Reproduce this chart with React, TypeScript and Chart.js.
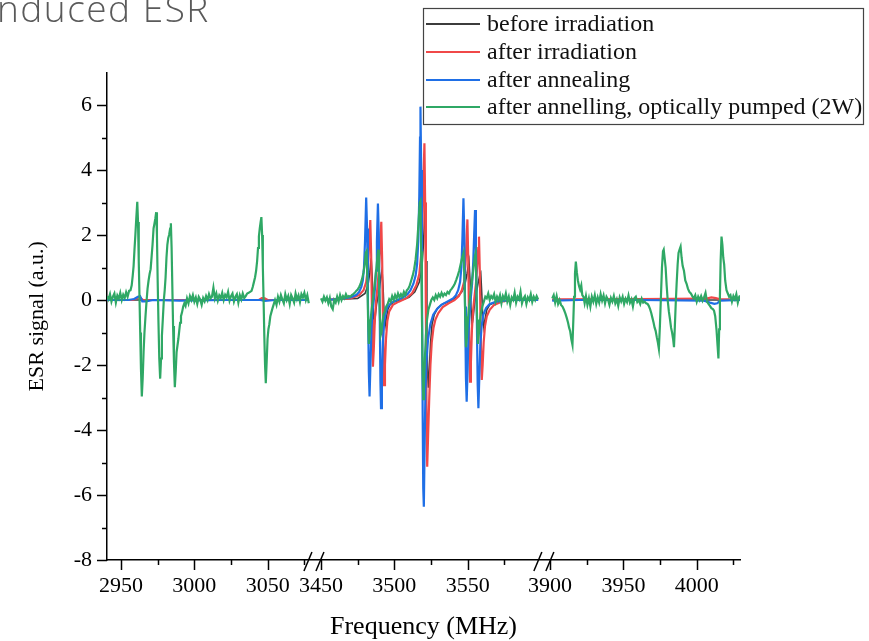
import { useEffect, useRef } from 'react';
import { Chart, registerables } from 'chart.js';

Chart.register(...registerables);

// ---------- labels / colours ----------
const seriesLabels = [
  'before irradiation',
  'after irradiation',
  'after annealing',
  'after annelling, optically pumped (2W)',
];
const seriesColors = ['#3c3c3c', '#f04848', '#1f6fe6', '#2fa865'];
const titleText = 'nduced ESR';
const xTitle = 'Frequency (MHz)';
const yTitle = 'ESR signal (a.u.)';

// ---------- broken frequency axis ----------
const segStart = [2940.46, 3446.0, 3896.5];
const segEnd = [3078.0, 3598.5, 4030.0];
const segOffset = [2940.46, 3304.12, 3598.0];
const xTickFreqs = [2950, 3000, 3050, 3450, 3500, 3550, 3900, 3950, 4000];
const xTickLabels = ['2950', '3000', '3050', '3450', '3500', '3550', '3900', '3950', '4000'];
const xMinorFreqs = [2975, 3025, 3075, 3475, 3525, 3575, 3925, 3975, 4025];
const yTickValues = [-8, -6, -4, -2, 0, 2, 4, 6];
const yTickLabels = ['-8', '-6', '-4', '-2', '0', '2', '4', '6'];
const yMinorValues = [-7, -5, -3, -1, 1, 3, 5];

function segOf(f: number) {
  if (f < 3300) return 0;
  if (f < 3750) return 1;
  return 2;
}
function toAxis(f: number) {
  return f - segOffset[segOf(f)];
}

// ---------- data: [frequency (MHz), ESR signal] ----------
const blackSeg1 = [[2940.5, 0.0], [2990, 0.0], [3040, 0.0], [3078, 0.0]];
const blackSeg2 = [
  [3450, 0.0], [3475, 0.05], [3480, 0.2], [3482, 0.45], [3483.3, 0.85], [3484.2, 1.28], [3484.9, 0.7], [3485.6, -0.3],
  [3486.3, -0.77], [3487.0, -0.5], [3487.8, -0.15], [3488.8, 0.1], [3490.0, 0.4], [3490.9, 0.75], [3491.6, 0.92],
  [3492.3, 0.4], [3493.0, -0.4], [3493.8, -0.77], [3494.6, -0.55], [3495.5, -0.3], [3497, -0.15], [3500, -0.05],
  [3505, 0.0], [3510, 0.08], [3514, 0.25], [3517, 0.55], [3518.8, 1.0], [3519.8, 1.7], [3520.6, 2.5], [3521.2, 3.0],
  [3521.7, 1.2], [3522.2, -1.0], [3522.7, -2.3], [3523.2, -2.7], [3523.9, -2.1], [3524.7, -1.3], [3525.7, -0.75],
  [3527.2, -0.45], [3529.5, -0.25], [3533, -0.12], [3538, -0.03], [3543, 0.1], [3546, 0.25], [3548, 0.45],
  [3549.5, 0.8], [3550.9, 1.18], [3551.6, 0.6], [3552.3, -0.3], [3553.0, -0.75], [3553.8, -0.5], [3554.7, -0.1],
  [3555.8, 0.2], [3557.0, 0.5], [3558.2, 0.75], [3558.9, 0.82], [3559.6, 0.2], [3560.3, -0.6], [3561.0, -0.85],
  [3561.8, -0.6], [3563, -0.3], [3565, -0.15], [3570, -0.05], [3580, 0.0], [3598, 0.0],
];
const blackSeg3 = [[3901.5, 0.0], [3960, 0.0], [4029.5, 0.0]];

const redSeg1 = [
  [2940.5, 0.0], [2958, 0.0], [2961, 0.06], [2963, 0.08], [2965, 0.0], [2990, 0.0], [3044, 0.0], [3046, 0.06],
  [3048, 0.05], [3050, 0.0], [3078, 0.0],
];
const redSeg2 = [
  [3450, 0.0], [3470, 0.05], [3476, 0.15], [3479, 0.3], [3480.8, 0.55], [3482.0, 1.0], [3482.8, 1.7], [3483.6, 2.46],
  [3484.2, 1.4], [3484.8, -0.6], [3485.4, -2.05], [3486.0, -1.5], [3486.7, -0.6], [3487.5, -0.05], [3488.4, 0.35],
  [3489.4, 0.9], [3490.3, 1.6], [3491.1, 2.41], [3491.7, 1.2], [3492.4, -1.2], [3493.0, -2.62], [3493.6, -2.0],
  [3494.3, -1.2], [3495.2, -0.65], [3496.5, -0.35], [3499, -0.15], [3503, -0.05], [3508, 0.05], [3512, 0.2],
  [3515, 0.45], [3517, 0.8], [3518.3, 1.4], [3519.2, 2.4], [3519.9, 3.8], [3520.5, 4.82], [3521.0, 3.0],
  [3521.5, -0.5], [3522.0, -3.8], [3522.4, -5.13], [3523.0, -4.2], [3523.8, -3.0], [3524.6, -2.0], [3525.5, -1.3],
  [3526.7, -0.85], [3528.0, -0.6], [3530.0, -0.4], [3533, -0.22], [3537, -0.1], [3541, 0.0], [3544, 0.12],
  [3546, 0.3], [3547.5, 0.55], [3548.5, 1.1], [3549.2, 1.8], [3549.8, 2.48], [3550.4, 1.2], [3551.0, -1.0],
  [3551.6, -2.51], [3552.2, -1.9], [3552.9, -0.9], [3553.7, -0.3], [3554.6, 0.1], [3555.6, 0.5], [3556.6, 1.1],
  [3557.2, 1.6], [3557.7, 1.95], [3558.3, 0.8], [3558.9, -1.2], [3559.6, -2.46], [3560.2, -2.0], [3560.9, -1.3],
  [3561.8, -0.8], [3563, -0.5], [3565, -0.3], [3568, -0.15], [3573, -0.05], [3580, 0.0], [3598, 0.0],
];
const redSeg3 = [
  [3901.5, 0.02], [3960, 0.03], [4006, 0.04], [4010, 0.08], [4013, 0.06], [4016, 0.02], [4029.5, 0.02],
];

const blueSeg1 = [
  [2940.5, 0.0], [2955, 0.0], [2959, 0.03], [2961.5, 0.1], [2963, 0.12], [2964.5, -0.04], [2967, -0.04],
  [2972, 0.0], [2990, -0.02], [3020, 0.0], [3045, 0.0], [3048, -0.03], [3055, 0.0], [3078, 0.0],
];
const blueSeg2 = [
  [3450, 0.0], [3460, 0.02], [3470, 0.08], [3474, 0.15], [3476, 0.25], [3477.5, 0.4], [3478.5, 0.6], [3479.3, 1.0],
  [3480.0, 1.8], [3480.8, 3.15], [3481.4, 2.2], [3482.0, 0.0], [3482.6, -2.2], [3483.1, -2.97], [3483.7, -2.0],
  [3484.4, -0.9], [3485.2, -0.3], [3486.0, 0.0], [3486.8, 0.35], [3487.5, 0.9], [3488.1, 1.8], [3488.8, 2.97],
  [3489.4, 2.0], [3490.0, -0.3], [3490.5, -2.5], [3490.9, -3.33], [3491.5, -2.4], [3492.2, -1.3], [3493.0, -0.7],
  [3494.0, -0.4], [3495.5, -0.2], [3498, -0.08], [3502, 0.0], [3506, 0.08], [3509, 0.18], [3511, 0.3], [3513, 0.5],
  [3514.5, 0.75], [3515.5, 1.1], [3516.3, 1.8], [3517.0, 3.2], [3517.5, 5.0], [3517.8, 5.95], [3518.3, 4.0],
  [3518.8, 0.5], [3519.3, -3.5], [3519.7, -5.8], [3520.1, -6.36], [3520.6, -4.6], [3521.2, -2.8], [3522.0, -1.8],
  [3523.0, -1.2], [3524.5, -0.75], [3526.5, -0.45], [3529, -0.28], [3532, -0.15], [3536, -0.05], [3540, 0.05],
  [3542, 0.15], [3543.5, 0.3], [3544.8, 0.55], [3545.7, 1.0], [3546.4, 1.9], [3547.1, 3.13], [3547.7, 2.0],
  [3548.2, -0.2], [3548.8, -2.4], [3549.3, -3.13], [3549.9, -2.2], [3550.6, -1.0], [3551.4, -0.3], [3552.2, 0.1],
  [3553.0, 0.5], [3553.8, 1.2], [3554.4, 2.0], [3555.0, 2.77], [3555.6, 1.6], [3556.2, -0.5], [3556.8, -2.6],
  [3557.3, -3.33], [3557.9, -2.4], [3558.6, -1.4], [3559.5, -0.8], [3560.7, -0.45], [3562.5, -0.25], [3565, -0.12],
  [3570, -0.04], [3580, 0.0], [3598, 0.0],
];
const blueSeg3 = [
  [3901.5, -0.02], [3920, 0.0], [3960, 0.0], [4005, -0.02], [4009, -0.08], [4012, -0.12], [4014, -0.1],
  [4016, -0.02], [4029.5, 0.0],
];

const greenSeg1 = [
  [2940.5, 0.12], [2941.5, 0.02], [2942.5, 0.18], [2943.5, -0.05], [2944.5, 0.1], [2945.5, 0.2], [2946.5, -0.08],
  [2947.5, 0.14], [2948.5, 0.04], [2949.5, 0.22], [2950.5, 0.0], [2951.5, 0.16], [2952.5, 0.06], [2953.5, 0.24],
  [2954.5, 0.1], [2955.5, 0.28], [2956.5, 0.3], [2957.3, 0.45], [2958.0, 0.75], [2958.6, 1.05], [2959.2, 1.55],
  [2959.8, 2.0], [2960.4, 2.5], [2961.1, 3.02], [2961.6, 2.4], [2962.1, 1.2], [2962.6, 0.1], [2963.1, -1.0],
  [2963.6, -2.1], [2964.2, -2.97], [2964.8, -2.4], [2965.4, -1.6], [2966.0, -1.0], [2966.7, -0.5], [2967.4, -0.05],
  [2968.1, 0.35], [2968.8, 0.6], [2969.5, 0.8], [2970.2, 0.95], [2970.9, 1.35], [2971.5, 1.7], [2972.2, 2.2],
  [2972.8, 2.35], [2973.4, 2.5], [2974.0, 2.7], [2974.5, 2.0], [2975.0, 0.6], [2975.5, -0.6], [2976.1, -1.8],
  [2976.7, -2.42], [2977.3, -1.8], [2977.9, -1.1], [2978.5, -0.6], [2979.2, 0.0], [2979.8, 0.3], [2980.4, 0.7],
  [2981.0, 1.3], [2981.6, 1.7], [2982.2, 1.9], [2982.8, 2.0], [2983.5, 2.2], [2984.0, 2.36], [2984.5, 1.6],
  [2985.0, 0.4], [2985.5, -0.8], [2986.1, -1.9], [2986.7, -2.68], [2987.3, -2.2], [2987.9, -1.6], [2988.5, -1.4],
  [2989.1, -1.2], [2989.7, -0.95], [2990.3, -0.7], [2990.9, -0.5], [2991.6, -0.38], [2992.4, -0.2], [2993.2, -0.1],
  [2994.0, -0.18], [2995.0, 0.05], [2996.0, -0.1], [2997, 0.12], [2998, 0.0], [2999, 0.15], [3000, -0.05],
  [3001, 0.08], [3002, -0.12], [3003, 0.1], [3004, 0.02], [3005, -0.15], [3006, 0.06], [3007, -0.04], [3008, 0.12],
  [3009, 0.0], [3010, 0.18], [3011, 0.05], [3012, 0.1], [3013, 0.38], [3014, 0.05], [3015, 0.2], [3016, -0.02],
  [3017, 0.14], [3018, 0.06], [3019, 0.22], [3020, 0.0], [3021, 0.16], [3022, 0.08], [3023, 0.25], [3024, -0.02],
  [3025, 0.12], [3026, 0.2], [3027, -0.05], [3028, 0.1], [3029, 0.18], [3030, -0.08], [3031, 0.15], [3032, 0.02],
  [3033, 0.2], [3034, 0.06], [3035, 0.12], [3036, 0.2], [3037, 0.22], [3038, 0.25], [3039, 0.28], [3039.8, 0.4],
  [3040.6, 0.55], [3041.4, 0.7], [3042.1, 0.9], [3042.8, 1.2], [3043.4, 1.6], [3044.0, 1.95], [3044.6, 2.2],
  [3045.2, 2.4], [3045.7, 2.55], [3046.2, 2.0], [3046.7, 1.0], [3047.2, 0.0], [3047.7, -1.1], [3048.2, -2.0],
  [3048.7, -2.56], [3049.3, -1.9], [3049.9, -1.2], [3050.5, -0.9], [3051.1, -0.75], [3051.8, -0.5], [3052.5, -0.38],
  [3053.3, -0.25], [3054.2, -0.12], [3055, 0.0], [3056, -0.15], [3057, 0.1], [3058, -0.05], [3059, 0.15],
  [3060, 0.02], [3061, -0.1], [3062, 0.18], [3063, 0.0], [3064, 0.12], [3065, -0.12], [3066, 0.15], [3067, 0.05],
  [3068, -0.08], [3069, 0.2], [3070, 0.02], [3071, 0.14], [3072, -0.06], [3073, 0.18], [3074, 0.08], [3075, 0.22],
  [3076, 0.0], [3077, 0.15], [3078, -0.1],
];
const greenSeg2 = [
  [3450, 0.05], [3451, -0.05], [3452, 0.1], [3453, -0.02], [3454, 0.08], [3455, -0.1], [3456, 0.06], [3457, -0.2],
  [3458, -0.28], [3459, 0.0], [3460, -0.08], [3461, 0.1], [3462, -0.05], [3463, 0.15], [3464, 0.0], [3465, 0.12],
  [3466, 0.05], [3467, 0.18], [3468, 0.08], [3469, 0.12], [3470, 0.1], [3471, 0.15], [3472, 0.18], [3473, 0.22],
  [3474, 0.28], [3475, 0.32], [3476, 0.4], [3477, 0.5], [3478, 0.65], [3479, 0.85], [3479.8, 1.1], [3480.5, 1.45],
  [3481.1, 1.5], [3481.6, 0.6], [3482.1, -0.6], [3482.6, -1.35], [3483.2, -1.1], [3483.8, -0.6], [3484.5, -0.3],
  [3485.3, 0.0], [3486.1, 0.3], [3486.9, 0.6], [3487.7, 0.95], [3488.4, 1.3], [3489.0, 1.55], [3489.5, 0.8],
  [3490.0, -0.3], [3490.6, -1.1], [3491.2, -1.0], [3491.9, -0.7], [3492.7, -0.45], [3493.5, -0.35], [3494.5, -0.2],
  [3495.5, -0.12], [3496.5, 0.02], [3497.5, -0.05], [3498.5, 0.12], [3499.5, 0.0], [3500.5, 0.15], [3501.5, 0.04],
  [3502.5, 0.2], [3503.5, 0.08], [3504.5, 0.18], [3505.5, 0.1], [3506.5, 0.25], [3507.5, 0.15], [3508.5, 0.3],
  [3509.5, 0.35], [3510.5, 0.45], [3511.5, 0.6], [3512.5, 0.75], [3513.5, 0.95], [3514.5, 1.25], [3515.5, 1.7],
  [3516.5, 2.4], [3517.3, 3.0], [3517.8, 3.05], [3518.3, 1.5], [3518.8, -0.5], [3519.3, -2.3], [3519.7, -3.05],
  [3520.2, -2.6], [3520.8, -1.8], [3521.5, -1.1], [3522.3, -0.6], [3523.2, -0.3], [3524.2, -0.15], [3525.2, 0.0],
  [3526.2, 0.08], [3527.2, 0.0], [3528.2, 0.15], [3529.2, 0.05], [3530.2, 0.18], [3531.2, 0.1], [3532.2, 0.22],
  [3533.2, 0.12], [3534.2, 0.2], [3535.2, 0.15], [3536.2, 0.25], [3537.2, 0.2], [3538.2, 0.3], [3539.2, 0.35],
  [3540.2, 0.42], [3541.2, 0.5], [3542.2, 0.62], [3543.2, 0.75], [3544.2, 0.9], [3545.2, 1.1], [3546.2, 1.3],
  [3547.2, 1.45], [3547.8, 0.6], [3548.3, -0.5], [3548.8, -1.45], [3549.4, -1.2], [3550.0, -0.7], [3550.7, -0.3],
  [3551.4, 0.0], [3552.1, 0.3], [3552.8, 0.55], [3553.5, 0.8], [3554.2, 1.1], [3554.9, 1.35], [3555.4, 1.45],
  [3555.9, 0.5], [3556.4, -0.6], [3556.9, -1.35], [3557.5, -1.1], [3558.2, -0.7], [3559.0, -0.4], [3560.0, -0.2],
  [3561, -0.05], [3562, 0.1], [3563, 0.05], [3564, 0.2], [3565, 0.0], [3566, 0.12], [3567, 0.05], [3568, 0.18],
  [3569, -0.05], [3570, 0.1], [3571, 0.0], [3572, 0.15], [3573, -0.1], [3574, 0.12], [3575, 0.02], [3576, 0.2],
  [3577, -0.05], [3578, 0.1], [3579, -0.15], [3580, 0.08], [3581, 0.0], [3582, 0.22], [3583, -0.08], [3584, 0.1],
  [3585, 0.02], [3586, 0.25], [3587, -0.1], [3588, 0.05], [3589, 0.12], [3590, -0.12], [3591, 0.08], [3592, 0.0],
  [3593, 0.18], [3594, -0.06], [3595, 0.1], [3596, 0.0], [3597, 0.12], [3598, 0.02],
];
const greenSeg3 = [
  [3901.5, 0.05], [3902.5, 0.15], [3903.5, -0.08], [3904.5, 0.12], [3905.5, -0.12], [3906.5, 0.0], [3907.5, -0.15],
  [3908.5, -0.2], [3909.5, -0.3], [3910.5, -0.42], [3911.4, -0.55], [3912.3, -0.7], [3913.0, -0.85], [3913.7, -0.95],
  [3914.5, -1.2], [3915.3, -1.38], [3915.9, -0.6], [3916.4, 0.1], [3917.0, 0.8], [3917.6, 1.18], [3918.3, 0.85],
  [3919.0, 0.6], [3919.8, 0.42], [3920.5, 0.32], [3921.3, 0.45], [3922.0, 0.15], [3922.8, 0.1], [3923.6, -0.1],
  [3924.5, 0.12], [3925.5, -0.15], [3926.5, 0.05], [3927.5, -0.2], [3928.5, 0.1], [3929.5, -0.05], [3930.5, 0.15],
  [3931.5, -0.12], [3932.5, 0.08], [3933.5, -0.08], [3934.5, 0.18], [3935.5, -0.02], [3936.5, 0.14], [3937.5, -0.1],
  [3938.5, 0.1], [3939.5, 0.02], [3940.5, -0.15], [3941.5, 0.06], [3942.5, -0.05], [3943.5, 0.12], [3944.5, -0.1],
  [3945.5, 0.02], [3946.5, -0.18], [3947.5, 0.08], [3948.5, -0.04], [3949.5, 0.1], [3950.5, -0.12], [3951.5, 0.04],
  [3952.5, -0.06], [3953.5, 0.14], [3954.5, -0.08], [3955.5, 0.02], [3956.5, -0.2], [3957.5, 0.05], [3958.5, 0.1],
  [3959.5, -0.06], [3960.5, 0.0], [3961.5, -0.12], [3962.5, 0.04], [3963.5, -0.08], [3964.5, -0.05], [3965.5, -0.1],
  [3966.5, -0.12], [3967.3, -0.18], [3968.2, -0.28], [3969.0, -0.4], [3969.8, -0.55], [3970.6, -0.7], [3971.3, -0.85],
  [3972.0, -0.95], [3972.8, -1.15], [3973.5, -1.3], [3974.2, -1.5], [3974.9, -0.8], [3975.6, 0.1], [3976.3, 1.0],
  [3977.0, 1.5], [3977.5, 1.55], [3978.1, 1.3], [3978.8, 1.0], [3979.5, 0.45], [3980.2, 0.0], [3981.0, -0.35],
  [3981.8, -0.6], [3982.5, -0.85], [3983.2, -1.0], [3983.9, -1.2], [3984.5, -1.45], [3985.1, -0.8], [3985.7, -0.1],
  [3986.3, 0.5], [3987.0, 1.1], [3987.6, 1.45], [3988.3, 1.55], [3989.0, 1.64], [3989.7, 1.3], [3990.4, 1.05],
  [3991.3, 0.9], [3992.2, 0.6], [3993.1, 0.5], [3994.0, 0.35], [3995.0, 0.25], [3996.0, 0.2], [3997.0, 0.12],
  [3998.0, 0.05], [3999.0, 0.15], [4000.0, -0.05], [4001.0, 0.1], [4002.0, 0.0], [4003.0, 0.12], [4004.0, -0.02],
  [4005.0, 0.08], [4006.0, 0.22], [4007.0, -0.05], [4008.0, -0.12], [4009.0, -0.18], [4010.0, -0.25], [4011.0, -0.28],
  [4011.8, -0.33], [4012.6, -0.5], [4013.5, -0.92], [4014.2, -1.4], [4014.8, -1.8], [4015.3, -0.9], [4015.8, 0.1],
  [4016.3, 1.2], [4016.9, 1.95], [4017.5, 1.7], [4018.1, 1.3], [4018.7, 1.1], [4019.4, 0.6], [4020.3, 0.3],
  [4021.2, 0.2], [4022.1, 0.1], [4023.0, 0.15], [4024.0, -0.05], [4025.0, 0.12], [4026.0, 0.02], [4027.0, 0.18],
  [4028.0, -0.08], [4029.0, 0.1], [4029.5, 0.14],
];

const seriesSegments = [
  [blackSeg1, blackSeg2, blackSeg3],
  [redSeg1, redSeg2, redSeg3],
  [blueSeg1, blueSeg2, blueSeg3],
  [greenSeg1, greenSeg2, greenSeg3],
];

function buildPoints(segs: number[][][]) {
  const pts: { x: number; y: number | null }[] = [];
  segs.forEach((seg, i) => {
    if (i > 0) {
      const prev = pts[pts.length - 1];
      const next = toAxis(seg[0][0]);
      pts.push({ x: (prev.x + next) / 2, y: null });
    }
    seg.forEach(([f, v]) => pts.push({ x: toAxis(f), y: v }));
  });
  return pts;
}

const SERIF = '"Liberation Serif", "Times New Roman", serif';

const decorPlugin = {
  id: 'decor',
  afterDraw(chart: any) {
    const ctx = chart.ctx;
    const xs = chart.scales.x;
    const ys = chart.scales.y;
    const a = chart.chartArea;
    ctx.save();
    ctx.strokeStyle = '#000';
    ctx.lineWidth = 1.5;
    const seg = (x1: number, y1: number, x2: number, y2: number) => {
      ctx.beginPath();
      ctx.moveTo(x1, y1);
      ctx.lineTo(x2, y2);
      ctx.stroke();
    };
    xTickFreqs.forEach((f) => {
      const px = Math.round(xs.getPixelForValue(toAxis(f))) + 0.5;
      seg(px, a.bottom, px, a.bottom + 10);
    });
    xMinorFreqs.forEach((f) => {
      const px = Math.round(xs.getPixelForValue(toAxis(f))) + 0.5;
      seg(px, a.bottom, px, a.bottom + 5);
    });
    yTickValues.forEach((v) => {
      const py = Math.round(ys.getPixelForValue(v)) + 0.5;
      seg(a.left - 10, py, a.left, py);
    });
    yMinorValues.forEach((v) => {
      const py = Math.round(ys.getPixelForValue(v)) + 0.5;
      seg(a.left - 5, py, a.left, py);
    });
    // axis break marks
    for (let i = 0; i < 2; i++) {
      const c1 = xs.getPixelForValue(segEnd[i] - segOffset[i]);
      const c2 = xs.getPixelForValue(segStart[i + 1] - segOffset[i + 1]);
      const mid = (c1 + c2) / 2;
      [mid - 4, mid + 8].forEach((cx) => seg(cx - 4, a.bottom + 11, cx + 4, a.bottom - 8));
    }
    // legend
    ctx.lineWidth = 1.2;
    ctx.strokeStyle = '#444';
    ctx.strokeRect(423.5, 8.5, 440, 116);
    const rows = [24, 52, 80, 107];
    ctx.font = `24px ${SERIF}`;
    ctx.textBaseline = 'middle';
    ctx.textAlign = 'left';
    seriesLabels.forEach((lab, i) => {
      ctx.strokeStyle = seriesColors[i];
      ctx.lineWidth = 1.8;
      seg(426, rows[i], 480, rows[i]);
      ctx.fillStyle = '#111';
      ctx.fillText(lab, 487, rows[i] + 1);
    });
    // slide title fragment
    ctx.font = '300 37px "Open Sans", sans-serif';
    (ctx as any).letterSpacing = '1.5px';
    ctx.fillStyle = '#5a5a5a';
    ctx.textBaseline = 'alphabetic';
    ctx.fillText(titleText, -3, 22);
    ctx.restore();
  },
};

export default function App() {
  const ref = useRef<HTMLCanvasElement | null>(null);
  useEffect(() => {
    if (!ref.current) return;
    const order = [3, 2, 1, 0];
    const chart = new Chart(ref.current, {
      type: 'line',
      data: {
        datasets: seriesSegments.map((segs, i) => ({
          label: seriesLabels[i],
          data: buildPoints(segs),
          borderColor: seriesColors[i],
          backgroundColor: seriesColors[i],
          borderWidth: i === 0 ? 1.6 : 2.2,
          pointRadius: 0,
          tension: 0,
          spanGaps: false,
          order: order[i],
        })),
      },
      options: {
        animation: false,
        responsive: false,
        devicePixelRatio: 1,
        events: [],
        layout: { padding: { top: 72.5, right: 129, left: 0, bottom: 0 } },
        plugins: { legend: { display: false }, tooltip: { enabled: false }, title: { display: false } },
        scales: {
          x: {
            type: 'linear',
            min: 0,
            max: 431.5,
            grid: { display: false, drawTicks: false },
            border: { display: true, color: '#000', width: 1.5 },
            afterFit: (s: any) => {
              s.height = 81;
            },
            afterBuildTicks: (s: any) => {
              s.ticks = xTickFreqs.map((f) => ({ value: toAxis(f) }));
            },
            ticks: {
              autoSkip: false,
              maxRotation: 0,
              minRotation: 0,
              padding: 13,
              color: '#000',
              font: { family: SERIF, size: 22 },
              callback: (_v: any, i: number) => xTickLabels[i],
            },
            title: {
              display: true,
              text: xTitle,
              color: '#000',
              font: { family: SERIF, size: 26, lineHeight: 1 },
              padding: { top: 0, bottom: 1 },
            },
          },
          y: {
            type: 'linear',
            min: -8,
            max: 7,
            grid: { display: false, drawTicks: false },
            border: { display: true, color: '#000', width: 1.5 },
            afterFit: (s: any) => {
              s.width = 107;
            },
            afterBuildTicks: (s: any) => {
              s.ticks = yTickValues.map((v) => ({ value: v }));
            },
            ticks: {
              padding: 15,
              color: '#000',
              font: { family: SERIF, size: 22 },
              callback: (_v: any, i: number) => yTickLabels[i],
            },
            title: {
              display: true,
              text: yTitle,
              color: '#000',
              font: { family: SERIF, size: 22 },
              padding: { top: 24, bottom: 0 },
            },
          },
        },
      },
      plugins: [decorPlugin],
    });
    return () => chart.destroy();
  }, []);
  return (
    <div style={{ position: 'absolute', left: 0, top: 0, width: 869, height: 641, background: '#fff' }}>
      <canvas ref={ref} width={869} height={641} style={{ display: 'block' }} />
    </div>
  );
}
